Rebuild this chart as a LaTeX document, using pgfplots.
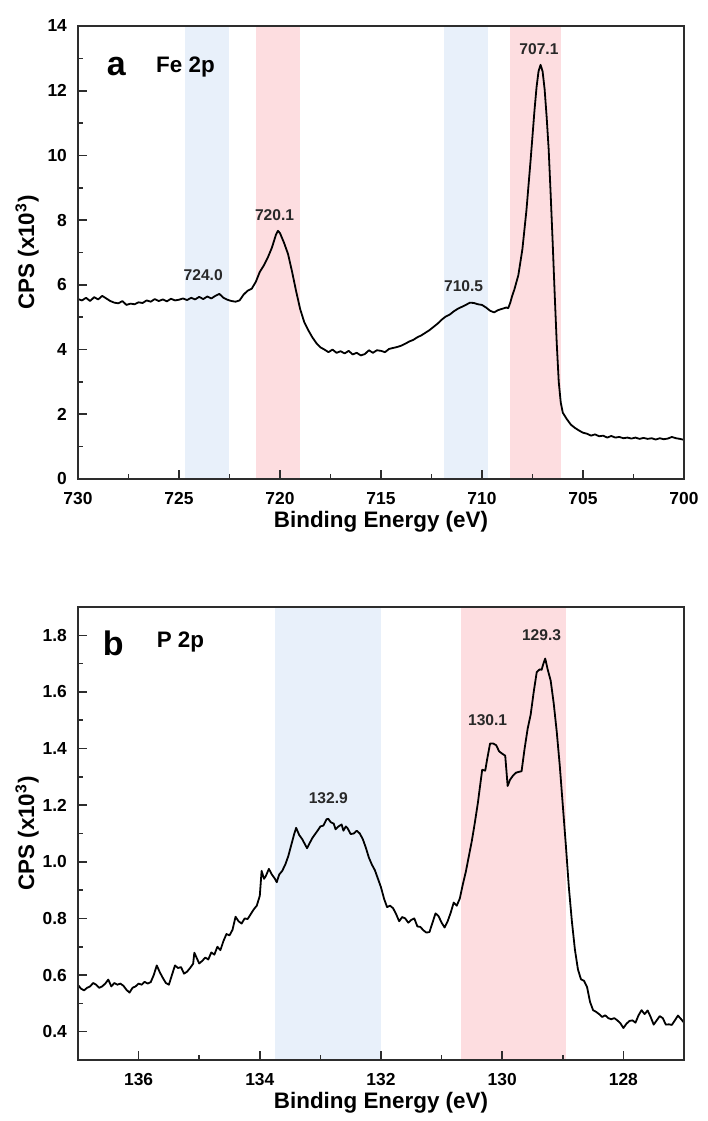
\documentclass[border=0pt]{standalone}
\usepackage{fontspec}
\setmainfont{Liberation Sans}
\usepackage{pgfplots}
\pgfplotsset{compat=1.18}
\definecolor{bandblue}{RGB}{232,240,250}
\definecolor{bandpink}{RGB}{253,221,224}
\definecolor{anno}{RGB}{40,40,40}
\definecolor{frame}{RGB}{45,45,45}

\pgfplotsset{xpsstyle/.style={
  scale only axis, width=303pt, height=226.5pt,
  x dir=reverse,
  axis line style={line width=0.9pt, frame},
  tick align=inside, xtick pos=bottom, ytick pos=left,
  major tick length=4.3pt, minor tick length=2.5pt,
  every tick/.style={line width=0.8pt, frame},
  minor tick num=1,
  /pgf/number format/assume math mode=true,
  tick label style={font=\bfseries\fontsize{8.7}{10}\selectfont, text=black},
  xticklabel style={yshift=-3pt},
  yticklabel style={xshift=-2pt},
  label style={font=\bfseries\fontsize{11.2}{13}\selectfont},
  xlabel={Binding Energy (eV)},
  ylabel={CPS (x10\textsuperscript{3})},
  x label style={at={(axis description cs:0.5,-0.095)}, anchor=center},
  y label style={at={(axis description cs:-0.084,0.5)}, anchor=center},
  axis on top,
  clip=true,
}}
\tikzset{anno/.style={font=\bfseries\fontsize{7.8}{9}\selectfont, text=anno}}

\pgfplotstableread{
x y
730.0 5.56
729.8 5.52
729.6 5.60
729.4 5.50
729.2 5.62
729.0 5.55
728.8 5.66
728.6 5.58
728.4 5.50
728.2 5.45
728.0 5.43
727.8 5.50
727.6 5.38
727.4 5.42
727.2 5.40
727.0 5.46
726.8 5.44
726.6 5.52
726.4 5.48
726.2 5.56
726.0 5.50
725.8 5.55
725.6 5.49
725.4 5.57
725.2 5.52
725.0 5.54
724.8 5.58
724.6 5.53
724.4 5.60
724.2 5.55
724.0 5.63
723.8 5.56
723.6 5.64
723.4 5.58
723.2 5.66
723.0 5.72
722.8 5.60
722.6 5.54
722.4 5.50
722.2 5.48
722.0 5.52
721.8 5.70
721.6 5.82
721.4 5.88
721.2 6.09
721.0 6.40
720.8 6.60
720.6 6.85
720.4 7.15
720.2 7.55
720.1 7.67
720.0 7.60
719.9 7.45
719.8 7.30
719.6 6.95
719.4 6.40
719.2 5.80
719.0 5.25
718.8 4.85
718.6 4.60
718.4 4.38
718.2 4.20
718.0 4.07
717.8 4.00
717.6 3.92
717.4 4.00
717.2 3.90
717.0 3.95
716.8 3.88
716.6 3.96
716.4 3.85
716.2 3.90
716.0 3.82
715.8 3.86
715.6 3.98
715.4 3.90
715.2 3.98
715.0 3.96
714.8 3.92
714.6 4.02
714.4 4.05
714.2 4.08
714.0 4.12
713.8 4.18
713.6 4.25
713.4 4.30
713.2 4.38
713.0 4.44
712.8 4.52
712.6 4.60
712.4 4.70
712.2 4.80
712.0 4.92
711.8 5.02
711.6 5.08
711.4 5.18
711.2 5.26
711.0 5.32
710.8 5.38
710.6 5.45
710.4 5.44
710.2 5.40
710.0 5.38
709.8 5.30
709.6 5.20
709.4 5.15
709.2 5.22
709.0 5.26
708.8 5.30
708.7 5.28
708.6 5.45
708.5 5.67
708.4 5.85
708.2 6.30
708.0 7.10
707.8 8.30
707.6 9.80
707.4 11.40
707.3 12.10
707.2 12.60
707.1 12.80
707.0 12.60
706.9 12.05
706.8 11.20
706.7 10.20
706.6 8.80
706.5 7.30
706.4 5.70
706.3 4.20
706.2 3.00
706.1 2.36
706.0 2.05
705.8 1.85
705.6 1.68
705.4 1.58
705.2 1.50
705.0 1.43
704.8 1.40
704.6 1.34
704.4 1.38
704.2 1.32
704.0 1.34
703.8 1.28
703.6 1.33
703.4 1.28
703.2 1.30
703.0 1.26
702.8 1.28
702.6 1.25
702.4 1.28
702.2 1.24
702.0 1.27
701.8 1.24
701.6 1.26
701.4 1.22
701.2 1.26
701.0 1.23
700.8 1.25
700.6 1.30
700.4 1.26
700.2 1.24
700.0 1.21
}\fedata

\pgfplotstableread{
x y
137.00 0.565
136.95 0.552
136.90 0.546
136.85 0.555
136.80 0.560
136.75 0.572
136.70 0.566
136.65 0.555
136.60 0.560
136.55 0.570
136.50 0.584
136.45 0.560
136.40 0.572
136.35 0.566
136.30 0.570
136.25 0.562
136.20 0.548
136.15 0.538
136.10 0.555
136.05 0.560
136.00 0.570
135.95 0.566
135.90 0.576
135.85 0.570
135.80 0.575
135.75 0.600
135.70 0.634
135.65 0.610
135.60 0.590
135.55 0.572
135.50 0.566
135.45 0.600
135.40 0.634
135.35 0.625
135.30 0.628
135.25 0.605
135.20 0.612
135.15 0.625
135.10 0.640
135.08 0.679
135.00 0.641
134.95 0.650
134.90 0.662
134.85 0.655
134.80 0.680
134.75 0.672
134.70 0.700
134.65 0.688
134.60 0.720
134.55 0.745
134.50 0.740
134.45 0.760
134.40 0.806
134.35 0.790
134.30 0.782
134.25 0.800
134.20 0.798
134.15 0.815
134.10 0.832
134.05 0.845
134.00 0.880
133.97 0.968
133.93 0.940
133.90 0.950
133.85 0.975
133.80 0.955
133.75 0.940
133.72 0.928
133.68 0.955
133.63 0.968
133.58 0.990
133.53 1.020
133.48 1.060
133.43 1.100
133.40 1.120
133.35 1.095
133.30 1.080
133.25 1.060
133.22 1.048
133.18 1.065
133.13 1.085
133.08 1.100
133.03 1.115
133.00 1.125
132.95 1.128
132.90 1.150
132.87 1.152
132.83 1.140
132.78 1.135
132.75 1.115
132.70 1.125
132.65 1.132
132.62 1.110
132.58 1.125
132.55 1.118
132.50 1.098
132.45 1.100
132.40 1.110
132.35 1.100
132.30 1.080
132.25 1.050
132.20 1.015
132.15 0.990
132.10 0.970
132.05 0.940
132.00 0.910
131.95 0.870
131.90 0.840
131.85 0.845
131.80 0.836
131.75 0.815
131.70 0.790
131.65 0.805
131.60 0.800
131.55 0.785
131.50 0.795
131.45 0.800
131.40 0.772
131.35 0.770
131.30 0.758
131.25 0.750
131.20 0.752
131.15 0.785
131.10 0.818
131.05 0.808
131.00 0.785
130.95 0.768
130.90 0.790
130.85 0.820
130.80 0.856
130.75 0.845
130.70 0.870
130.65 0.920
130.60 0.965
130.55 1.020
130.50 1.075
130.45 1.140
130.40 1.210
130.37 1.260
130.33 1.325
130.28 1.322
130.25 1.360
130.20 1.418
130.15 1.418
130.10 1.412
130.05 1.390
130.00 1.382
129.95 1.375
129.91 1.268
129.87 1.290
129.82 1.305
129.77 1.315
129.72 1.318
129.68 1.320
129.63 1.400
129.58 1.470
129.53 1.520
129.48 1.600
129.43 1.670
129.38 1.680
129.35 1.678
129.32 1.700
129.29 1.718
129.25 1.680
129.20 1.640
129.15 1.560
129.10 1.460
129.05 1.340
129.00 1.200
128.95 1.060
128.90 0.910
128.85 0.790
128.80 0.690
128.75 0.620
128.70 0.585
128.65 0.580
128.60 0.558
128.55 0.505
128.50 0.476
128.45 0.470
128.40 0.462
128.35 0.452
128.30 0.458
128.25 0.448
128.20 0.444
128.15 0.448
128.10 0.440
128.05 0.430
128.00 0.413
127.95 0.428
127.90 0.438
127.85 0.440
127.80 0.432
127.75 0.458
127.70 0.476
127.65 0.462
127.60 0.475
127.55 0.452
127.50 0.425
127.45 0.440
127.40 0.455
127.35 0.448
127.30 0.425
127.25 0.426
127.20 0.424
127.15 0.440
127.10 0.457
127.05 0.445
127.00 0.432
}\pdata

\begin{document}
\begin{tikzpicture}
\begin{axis}[xpsstyle, at={(0pt,0pt)}, anchor=south west,
  xmin=700, xmax=730, ymin=0, ymax=14,
  xtick={700,705,...,730}, ytick={0,2,...,14}]
\addplot[draw=none, fill=bandblue] coordinates {(724.7,0) (724.7,14) (722.5,14) (722.5,0)} -- cycle;
\addplot[draw=none, fill=bandpink] coordinates {(721.2,0) (721.2,14) (719.0,14) (719.0,0)} -- cycle;
\addplot[draw=none, fill=bandblue] coordinates {(711.9,0) (711.9,14) (709.7,14) (709.7,0)} -- cycle;
\addplot[draw=none, fill=bandpink] coordinates {(708.6,0) (708.6,14) (706.1,14) (706.1,0)} -- cycle;
\addplot[line width=0.9pt, black, line join=round] table[x=x, y=y] {\fedata};
\node[font=\bfseries\fontsize{17}{19}\selectfont] at (axis cs:728.1,12.76) {a};
\node[font=\bfseries\fontsize{11.2}{13}\selectfont] at (axis cs:724.68,12.73) {Fe 2p};
\node[anno] at (axis cs:723.8,6.30) {724.0};
\node[anno] at (axis cs:720.27,8.17) {720.1};
\node[anno] at (axis cs:710.91,5.96) {710.5};
\node[anno] at (axis cs:707.18,13.29) {707.1};
\end{axis}
\begin{axis}[xpsstyle, at={(0pt,-290.5pt)}, anchor=south west,
  xmin=127, xmax=137, ymin=0.3, ymax=1.9,
  xtick={128,130,...,136}, ytick={0.4,0.6,...,1.81},
  yticklabel style={/pgf/number format/.cd, fixed, fixed zerofill, precision=1}]
\addplot[draw=none, fill=bandblue] coordinates {(133.75,0.3) (133.75,1.9) (132.0,1.9) (132.0,0.3)} -- cycle;
\addplot[draw=none, fill=bandpink] coordinates {(130.68,0.3) (130.68,1.9) (128.94,1.9) (128.94,0.3)} -- cycle;
\addplot[line width=0.9pt, black, line join=round] table[x=x, y=y] {\pdata};
\node[font=\bfseries\fontsize{17}{19}\selectfont] at (axis cs:136.42,1.771) {b};
\node[font=\bfseries\fontsize{11.2}{13}\selectfont] at (axis cs:135.31,1.776) {P 2p};
\node[anno] at (axis cs:132.87,1.226) {132.9};
\node[anno] at (axis cs:130.24,1.499) {130.1};
\node[anno] at (axis cs:129.35,1.802) {129.3};
\end{axis}
\pgfresetboundingbox
\path[use as bounding box] (-39pt,-321pt) rectangle (315pt,239.5pt);
\end{tikzpicture}
\end{document}
